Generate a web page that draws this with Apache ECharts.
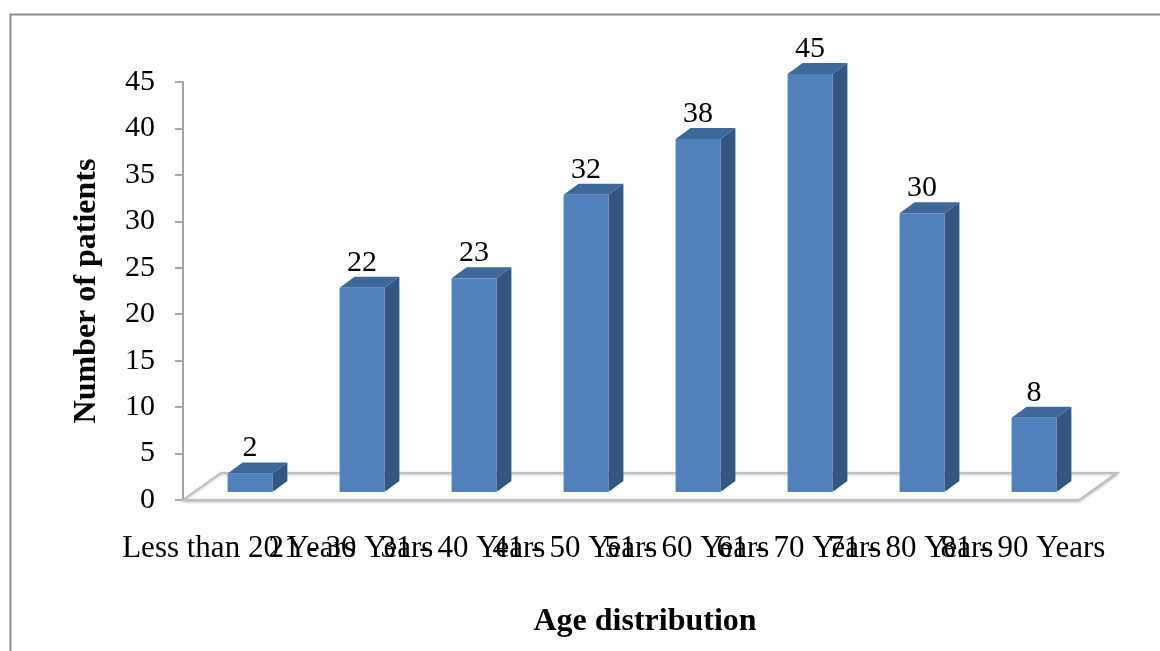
<!DOCTYPE html>
<html lang="en">
<head>
  <meta charset="UTF-8">
  <title>Age distribution</title>
  <script src="https://cdn.jsdelivr.net/npm/echarts@6.0.0/dist/echarts.min.js"></script>
  <style>
    html, body { margin: 0; padding: 0; background: #fff; }
  </style>
</head>
<body>
  <div id="main" style="width: 1160px; height: 651px;"></div>

  <script>
    // chart data
    const categories = ['Less than 20 Years', '21 - 30 Years', '31 - 40 Years', '41 - 50 Years',
      '51 - 60 Years', '61 - 70 Years', '71 - 80 Years', '81 - 90 Years'];
    const patients = [2, 22, 23, 32, 38, 45, 30, 8];
    const yTicks = [0, 5, 10, 15, 20, 25, 30, 35, 40, 45];

    const font = '"Liberation Serif", "Times New Roman", serif';
    const myChart = echarts.init(document.getElementById('main'));

    // 3d look of the excel chart
    const floorDx = 38, floorDy = 27;
    const sideDx = 15, sideDy = 11;

    function renderBar(params, api) {
      const i = api.value(0);
      const v = api.value(1);
      const top = api.coord([i, v]);
      const base = api.coord([i, 0]);
      const band = api.size([1, 0])[0];
      const w = band * 0.4;
      const cx = top[0] + 11;
      const x0 = cx - w / 2, x1 = cx + w / 2;
      const yt = top[1] - 8, yb = base[1] - 8;
      return {
        type: 'group',
        children: [
          { type: 'polygon', shape: { points: [[x1, yt], [x1 + sideDx, yt - sideDy], [x1 + sideDx, yb - sideDy], [x1, yb]] },
            style: { fill: '#34557f' } },
          { type: 'polygon', shape: { points: [[x0, yt], [x0 + sideDx, yt - sideDy], [x1 + sideDx, yt - sideDy], [x1, yt]] },
            style: { fill: '#3e679a' } },
          { type: 'rect', shape: { x: x0, y: yt, width: w, height: yb - yt },
            style: { fill: '#4f81bd' } },
          { type: 'text', x: cx, y: yt - sideDy + 1,
            style: { text: String(v), font: '30px ' + font, fill: '#000', align: 'center', verticalAlign: 'bottom' } }
        ]
      };
    }

    function renderFloor(params, api) {
      const cs = params.coordSys;
      const x0 = cs.x, x1 = cs.x + cs.width, y = cs.y + cs.height;
      return {
        type: 'polygon',
        shape: { points: [[x0, y], [x0 + floorDx, y - floorDy], [x1 + floorDx, y - floorDy], [x1, y]] },
        style: { fill: '#fff', stroke: '#bfbfbf', lineWidth: 2, shadowColor: 'rgba(0,0,0,0.25)', shadowBlur: 3, shadowOffsetY: 1 }
      };
    }

    const options = {
      animation: false,
      backgroundColor: '#fff',
      graphic: [{
        type: 'rect', left: 8, top: 12,
        shape: { width: 1300, height: 800 },
        style: { fill: 'none', stroke: '#8a8a8a', lineWidth: 2 }
      }],
      grid: { left: 183, right: 81, top: 82, bottom: 151 },
      xAxis: {
        type: 'category',
        data: categories,
        name: 'Age distribution',
        nameLocation: 'middle',
        nameGap: 106,
        nameTextStyle: { fontFamily: font, fontSize: 32, fontWeight: 'bold', color: '#000',
          padding: [0, 0, 0, 28] },
        axisLine: { show: false },
        axisTick: { show: false },
        axisLabel: { interval: 0, margin: 33, fontFamily: font, fontSize: 31, color: '#000' }
      },
      yAxis: {
        type: 'value',
        min: 0, max: 45, interval: 5,
        name: 'Number of patients',
        nameLocation: 'middle',
        nameGap: 80,
        nameTextStyle: { fontFamily: font, fontSize: 32, fontWeight: 'bold', color: '#000' },
        axisLine: { show: true, lineStyle: { color: '#a6a6a6', width: 2 } },
        axisTick: { show: true, length: 8, lineStyle: { color: '#a6a6a6', width: 2 } },
        axisLabel: { margin: 28, fontFamily: font, fontSize: 30, color: '#000',
          formatter: v => yTicks.includes(v) ? String(v) : '' },
        splitLine: { show: false }
      },
      series: [
        { type: 'custom', renderItem: renderFloor, data: [[0, 0]], z: 1, silent: true },
        { type: 'custom', renderItem: renderBar, z: 2,
          data: patients.map((v, i) => [i, v]) }
      ]
    };

    myChart.setOption(options);
  </script>
</body>
</html>
